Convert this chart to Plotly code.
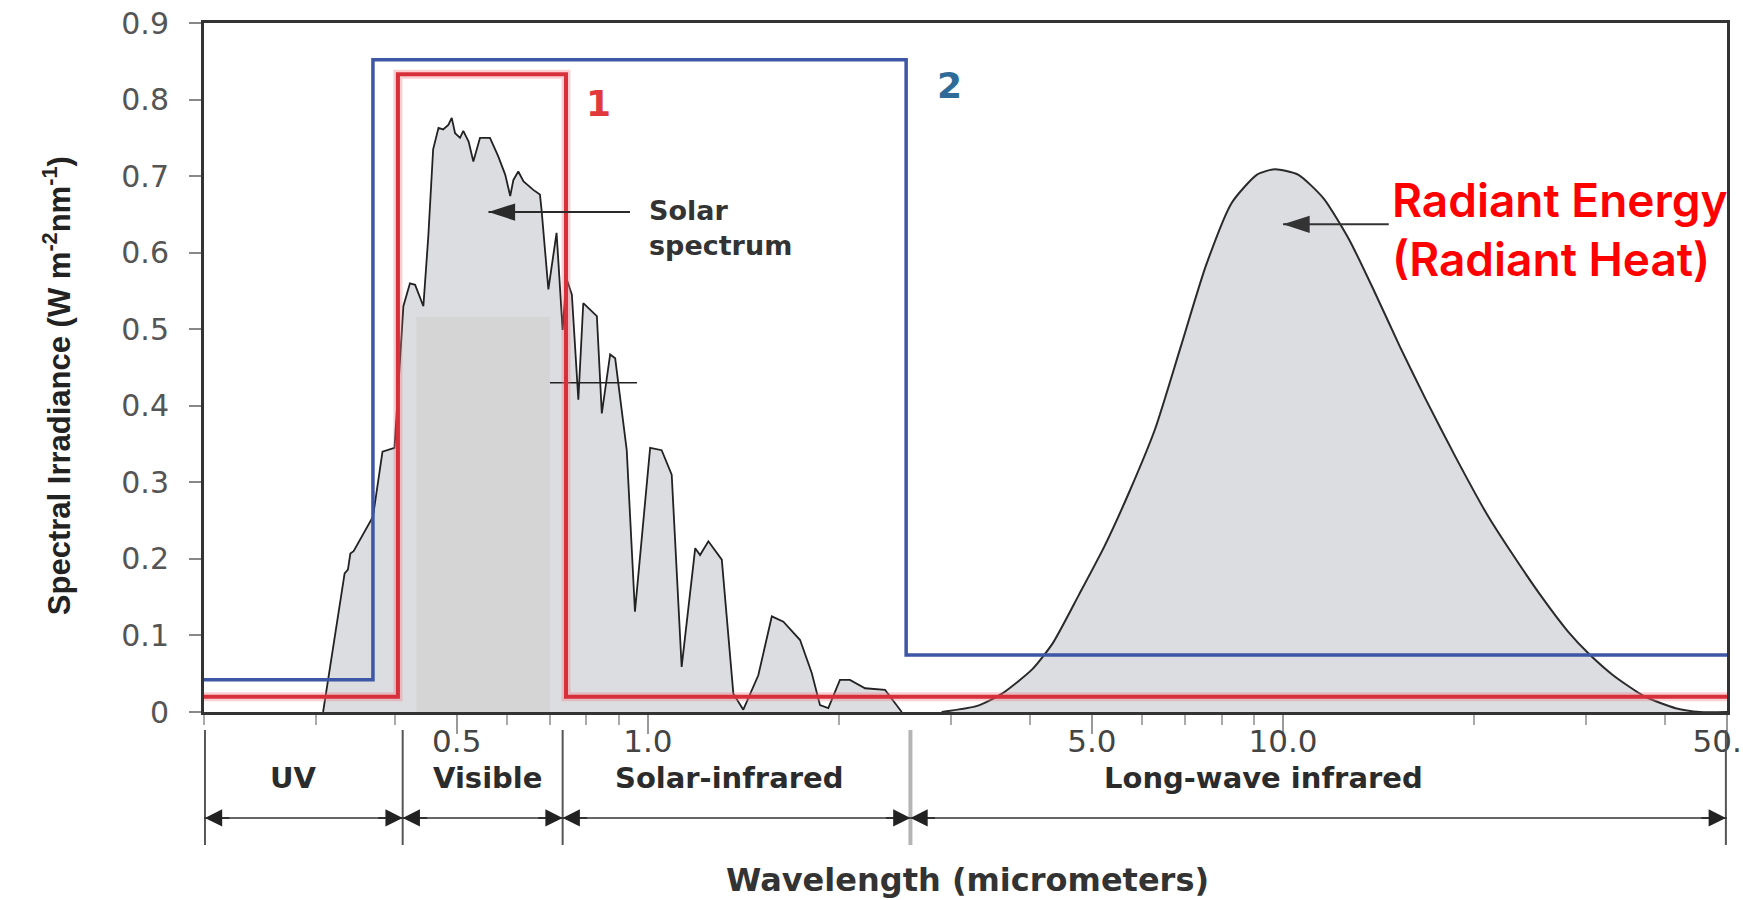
import numpy as np
import plotly.graph_objects as go

# ---------------- data ----------------
# Solar spectrum: wavelength (micrometers) and spectral irradiance
solar_wl = [0.308, 0.333, 0.337, 0.340, 0.344, 0.369, 0.382, 0.399, 0.412, 0.422,
            0.430, 0.443, 0.451, 0.459, 0.468, 0.476, 0.485, 0.491, 0.497, 0.506,
            0.512, 0.522, 0.531, 0.544, 0.564, 0.581, 0.596, 0.607, 0.614, 0.625,
            0.637, 0.660, 0.676, 0.680, 0.697, 0.718, 0.734, 0.744, 0.759, 0.777,
            0.791, 0.831, 0.846, 0.872, 0.888, 0.926, 0.954, 1.008, 1.051, 1.090,
            1.130, 1.187, 1.208, 1.245, 1.307, 1.363, 1.413, 1.492, 1.567, 1.634,
            1.736, 1.811, 1.866, 1.923, 2.006, 2.080, 2.197, 2.362, 2.494, 2.51]
solar_irr = [0.0, 0.181, 0.186, 0.207, 0.210, 0.255, 0.340, 0.345, 0.530, 0.560,
             0.558, 0.530, 0.621, 0.735, 0.763, 0.761, 0.767, 0.776, 0.756, 0.750,
             0.759, 0.745, 0.719, 0.750, 0.750, 0.726, 0.702, 0.674, 0.695, 0.706,
             0.693, 0.682, 0.676, 0.656, 0.552, 0.626, 0.499, 0.567, 0.545, 0.408,
             0.534, 0.517, 0.390, 0.467, 0.462, 0.342, 0.131, 0.345, 0.342, 0.310,
             0.059, 0.214, 0.205, 0.223, 0.199, 0.024, 0.003, 0.048, 0.125, 0.118,
             0.094, 0.051, 0.009, 0.005, 0.042, 0.042, 0.031, 0.029, 0.003, 0.0]

# Earth's long-wave (radiant heat) curve
earth_wl = [2.90, 3.30, 3.61, 4.03, 4.34, 4.77, 5.23, 5.73, 6.29, 6.90, 7.56, 8.30, 9.10,
            9.71, 10.56, 11.58, 12.71, 13.93, 15.28, 16.76, 18.72, 20.92, 22.94,
            25.66, 28.10, 30.30, 33.20, 37.15, 41.50, 45.36, 50.0]
earth_irr = [0.0, 0.008, 0.024, 0.056, 0.090, 0.153, 0.216, 0.288, 0.370, 0.477, 0.583,
             0.665, 0.702, 0.709, 0.702, 0.671, 0.617, 0.549, 0.477, 0.409, 0.332,
             0.259, 0.207, 0.148, 0.105, 0.076, 0.047, 0.020, 0.005, 0.0, 0.0]

# Window 1 (red) and window 2 (blue) step outlines
win1_wl = [0.2, 0.404, 0.404, 0.743, 0.743, 50.0]
win1_val = [0.02, 0.02, 0.833, 0.833, 0.02, 0.02]
win2_wl = [0.2, 0.369, 0.369, 2.55, 2.55, 50.0]
win2_val = [0.042, 0.042, 0.852, 0.852, 0.0745, 0.0745]

# Flat grey patch and stray leader line seen in the picture
patch_wl = [0.432, 0.701]
patch_top = 0.516
stray_wl = [0.701, 0.961]
stray_val = 0.430

# Spectral regions below the axis
region_names = ["UV", "Visible", "Solar-infrared", "Long-wave infrared"]
region_edges = [0.2007, 0.411, 0.734, 2.59, 49.8]
region_label_wl = [0.277, 0.559, 1.342, 9.30]
region_label_y = -0.1110      # data units (below the axis)
region_arrow_y = -0.1384
region_line_y = [-0.0235, -0.1737]

# Axis ticks
xtick_vals = [0.5, 1.0, 5.0, 10.0, 50.0]
xtick_text = ["0.5", "1.0", "5.0", "10.0", "50.0"]
xminor_vals = [0.2, 0.3, 0.4, 0.6, 0.7, 0.8, 0.9, 2, 3, 4, 6, 7, 8, 9, 20, 30, 40]
x_range = [0.2, 50.0]
y_range = [0.0, 0.9]

# Label anchors (data coordinates)
win1_label = (0.835, 0.795)
win2_label = (2.98, 0.818)
solar_pointer_wl = [0.561, 0.937]
solar_pointer_val = 0.653
solar_text_pos = (0.996, 0.632)
heat_pointer_wl = [10.0, 14.67]
heat_pointer_val = 0.637
heat_text_pos = [(14.74, 0.669), (14.74, 0.5915)]
xtitle_y = -0.219
ytitle_pos = (-0.0965, 0.473)   # paper


def to_paper(v):
    return (v - y_range[0]) / (y_range[1] - y_range[0])


# ---------------- figure ----------------
fig = go.Figure()

fig.add_trace(go.Scatter(x=solar_wl, y=solar_irr, mode="lines", fill="tozeroy",
                         fillcolor="#dcdde0", line=dict(color="#222222", width=1.8),
                         hoverinfo="skip"))
fig.add_trace(go.Scatter(x=earth_wl, y=earth_irr, mode="lines", fill="tozeroy",
                         fillcolor="#dcdde0", line=dict(color="#2a2a2a", width=2, shape="spline", smoothing=0.6),
                         hoverinfo="skip"))
fig.add_trace(go.Scatter(x=[patch_wl[0], patch_wl[1], patch_wl[1], patch_wl[0], patch_wl[0]],
                         y=[0, 0, patch_top, patch_top, 0], mode="lines", fill="toself",
                         fillcolor="#d5d5d5", line=dict(width=0), hoverinfo="skip"))
fig.add_trace(go.Scatter(x=stray_wl, y=[stray_val, stray_val], mode="lines",
                         line=dict(color="#222222", width=1.5), hoverinfo="skip"))
# pink halo + red window 1
fig.add_trace(go.Scatter(x=win1_wl, y=win1_val, mode="lines",
                         line=dict(color="rgba(240,120,130,0.35)", width=9), hoverinfo="skip"))
fig.add_trace(go.Scatter(x=win1_wl, y=win1_val, mode="lines",
                         line=dict(color="#d8303b", width=4), hoverinfo="skip"))
fig.add_trace(go.Scatter(x=win2_wl, y=win2_val, mode="lines",
                         line=dict(color="#3d56a6", width=3.5), hoverinfo="skip"))

# pointer arrows (line + arrow head marker at the tip)
for wl, val, col in [(solar_pointer_wl, solar_pointer_val, "#2a2a2a"),
                     (heat_pointer_wl, heat_pointer_val, "#333333")]:
    fig.add_trace(go.Scatter(x=wl, y=[val, val], mode="lines",
                             line=dict(color=col, width=2), hoverinfo="skip"))
    fig.add_trace(go.Scatter(x=[wl[0]], y=[val], mode="markers",
                             marker=dict(symbol="arrow", angle=-90, size=28, color=col,
                                         line=dict(width=0)), hoverinfo="skip"))

# ---------------- axes ----------------
fig.update_xaxes(type="log", range=[np.log10(x_range[0]), np.log10(x_range[1])],
                 automargin=False,
                 showline=True, linecolor="#333333", linewidth=3, mirror=True,
                 ticks="outside", tickmode="array", tickvals=xtick_vals, ticktext=xtick_text,
                 ticklen=19, tickwidth=2, tickcolor="#999999",
                 tickfont=dict(family="DejaVu Sans", size=31, color="#444444"),
                 ticklabelstandoff=-19, ticklabeloverflow="allow",
                 showgrid=False, zeroline=False,
                 minor=dict(tickmode="array", tickvals=xminor_vals, ticks="outside",
                            ticklen=10, tickwidth=2, tickcolor="#aaaaaa", showgrid=False))
fig.update_yaxes(range=y_range, tick0=0, dtick=0.1, automargin=False,
                 showline=True, linecolor="#333333", linewidth=3, mirror=True,
                 ticks="outside", ticklen=12, tickwidth=1.5, tickcolor="#888888",
                 tickfont=dict(family="DejaVu Sans", size=30, color="#555555"),
                 ticklabelstandoff=14, showgrid=False, zeroline=False)

# ---------------- region markers below the axis ----------------
shapes = []
edge_colors = ["#555555", "#555555", "#555555", "#b5b5b5", "#555555"]
edge_widths = [2, 2, 2, 4, 2]
for e, c, w in zip(region_edges, edge_colors, edge_widths):
    shapes.append(dict(type="line", xref="x", yref="paper", x0=e, x1=e,
                       y0=to_paper(region_line_y[0]), y1=to_paper(region_line_y[1]),
                       line=dict(color=c, width=w), layer="above"))
shapes.append(dict(type="line", xref="x", yref="paper", x0=x_range[0], x1=x_range[1],
                   y0=to_paper(region_arrow_y), y1=to_paper(region_arrow_y),
                   line=dict(color="#333333", width=1.5)))

annotations = []
for i in range(len(region_names)):
    left, right = region_edges[i], region_edges[i + 1]
    for edge, off in [(left, 26), (right, -26)]:
        annotations.append(dict(x=np.log10(edge), y=to_paper(region_arrow_y), xref="x", yref="paper",
                                text="", showarrow=True, ax=off, ay=0, arrowhead=2, arrowsize=2.3,
                                arrowwidth=1.5, arrowcolor="#222222", standoff=0))
    annotations.append(dict(x=np.log10(region_label_wl[i]), y=to_paper(region_label_y),
                            xref="x", yref="paper", text=region_names[i], showarrow=False,
                            font=dict(family="DejaVu Sans", size=29, color="#2b2b2b", weight="bold")))

# axis titles
annotations.append(dict(x=ytitle_pos[0], y=ytitle_pos[1], xref="paper", yref="paper", textangle=-90,
                        text="Spectral Irradiance (W m<sup>-2</sup>nm<sup>-1</sup>)", showarrow=False,
                        xanchor="center", yanchor="middle",
                        font=dict(family="Liberation Sans, Arial, sans-serif",
                                  size=31, color="#222222", weight="bold")))
annotations.append(dict(x=0.501, y=to_paper(xtitle_y), xref="paper", yref="paper",
                        text="Wavelength (micrometers)", showarrow=False,
                        xanchor="center", yanchor="middle",
                        font=dict(family="DejaVu Sans", size=32, color="#333333", weight="bold")))

# window labels
annotations.append(dict(x=np.log10(win1_label[0]), y=win1_label[1], xref="x", yref="y", text="1",
                        showarrow=False, font=dict(family="DejaVu Sans", size=36, color="#e23a3c", weight="bold")))
annotations.append(dict(x=np.log10(win2_label[0]), y=win2_label[1], xref="x", yref="y", text="2",
                        showarrow=False, font=dict(family="DejaVu Sans", size=36, color="#2e6b98", weight="bold")))

annotations.append(dict(x=np.log10(solar_text_pos[0]), y=solar_text_pos[1], xref="x", yref="y",
                        text="Solar<br>spectrum", showarrow=False, xanchor="left", yanchor="middle",
                        align="left",
                        font=dict(family="DejaVu Sans", size=27, color="#333333", weight="bold")))

for txt, pos in zip(["Radiant Energy", "(Radiant Heat)"], heat_text_pos):
    annotations.append(dict(x=np.log10(pos[0]), y=pos[1], xref="x", yref="y", text=txt,
                            showarrow=False, xanchor="left", yanchor="middle",
                            font=dict(family="Inter, Lato, Liberation Sans", size=46, color="#ff0000", weight=600)))

fig.update_layout(width=1743, height=900, margin=dict(l=204, r=16, t=23, b=188, autoexpand=False),
                  plot_bgcolor="white", paper_bgcolor="white", showlegend=False,
                  shapes=shapes, annotations=annotations)

fig.write_html("out.html", config={"displayModeBar": False},
               post_script="document.body.style.margin='0';document.body.style.overflow='hidden';")
